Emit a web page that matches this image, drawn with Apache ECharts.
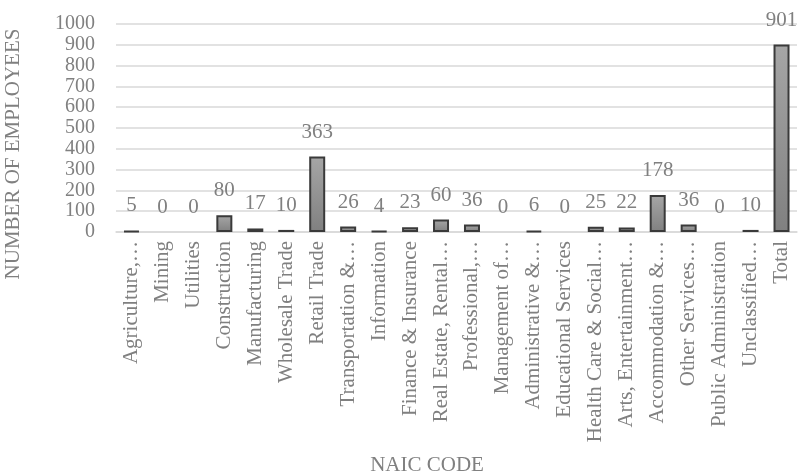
<!DOCTYPE html>
<html><head><meta charset="utf-8">
<script src="https://cdn.jsdelivr.net/npm/echarts@6/dist/echarts.min.js"></script>
<style>html,body{margin:0;padding:0;background:#fff}#c{width:805px;height:476px}</style>
</head><body><div id="c"></div>
<script>
const categories = ["Agriculture,…","Mining","Utilities","Construction","Manufacturing","Wholesale Trade","Retail Trade","Transportation &…","Information","Finance & Insurance","Real Estate, Rental…","Professional,…","Management of…","Administrative &…","Educational Services","Health Care & Social…","Arts, Entertainment…","Accommodation &…","Other Services…","Public Administration","Unclassified…","Total"];
const employees = [5,0,0,80,17,10,363,26,4,23,60,36,0,6,0,25,22,178,36,0,10,901];
const yTicks = {min:0,max:1000,interval:100};
const yTitle = "NUMBER OF EMPLOYEES";
const xTitle = "NAIC CODE";

const FONT = "Liberation Serif";
const FS = 21;
const GREY = "#808080";
const chart = echarts.init(document.getElementById('c'));
chart.setOption({
  animation:false,
  textStyle:{fontFamily:FONT},
  grid:{left:116,right:8,top:24,bottom:244,containLabel:false},
  xAxis:{type:'category',data:categories,
    axisLine:{lineStyle:{color:'#d9d9d9',width:1.5}},axisTick:{show:false},
    axisLabel:{rotate:90,interval:0,color:GREY,fontFamily:FONT,fontSize:FS,margin:9}},
  yAxis:{type:'value',min:yTicks.min,max:yTicks.max,interval:yTicks.interval,
    axisLine:{show:false},axisTick:{show:false},
    splitLine:{lineStyle:{color:'#d9d9d9',width:1.5}},
    axisLabel:{color:GREY,fontFamily:FONT,fontSize:20,lineHeight:18,margin:21,formatter:v=>String(v),
      showMinLabel:true,showMaxLabel:true}},
  series:[{type:'bar',barWidth:16,
    data:employees.map(v=>v===0?{value:v,itemStyle:{borderWidth:0}}:v),
    itemStyle:{borderColor:'#3a3a3a',borderWidth:2,
      color:new echarts.graphic.LinearGradient(0,0,0,1,[{offset:0,color:'#a6a6a6'},{offset:1,color:'#808080'}])},
    label:{show:true,position:'top',distance:14,color:GREY,fontFamily:FONT,fontSize:FS}}],
  graphic:[
    {type:'text',x:13,y:154,rotation:Math.PI/2,style:{text:yTitle,fill:GREY,font:FS+'px "Liberation Serif"',textAlign:'center',textVerticalAlign:'middle'}},
    {type:'text',x:427,y:465,style:{text:xTitle,fill:GREY,font:FS+'px "Liberation Serif"',textAlign:'center',textVerticalAlign:'middle'}}
  ]
});
</script></body></html>
